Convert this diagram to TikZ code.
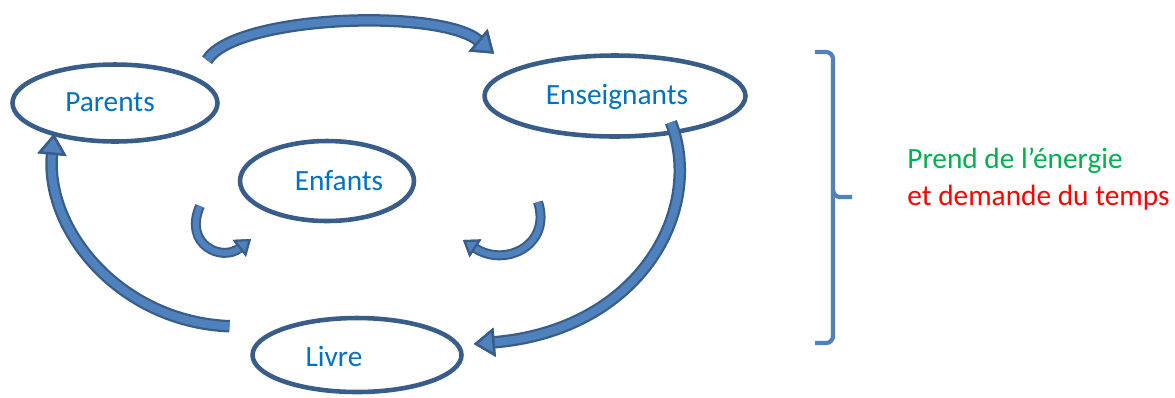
\documentclass[tikz,border=0pt]{standalone}
\usepackage{fontspec}
\setmainfont{Carlito}
\usepackage{xcolor}
\usepackage{tikz}
\usetikzlibrary{arrows.meta, positioning, shapes.geometric}
\definecolor{ring}{RGB}{56,93,138}
\definecolor{arrfill}{RGB}{79,129,189}
\definecolor{labelblue}{RGB}{0,112,192}
\definecolor{energy}{RGB}{0,176,80}
\definecolor{timered}{RGB}{255,0,0}

\begin{document}
\begin{tikzpicture}[x=0.02cm, y=-0.02cm, node distance=0.1cm,
    bubble/.style={ellipse, draw=ring, line width=2.6pt, inner sep=0pt},
    word/.style={font=\fontsize{16.7}{20}\selectfont, inner sep=0pt, anchor=base},
    bigarrow/.style={line width=0.16cm, draw=arrfill,
        -{Triangle[length=0.42cm, width=0.58cm, line width=1.4pt, color=ring, fill=arrfill]},
        preaction={draw=ring, line width=0.25cm}},
    smallarrow/.style={line width=0.12cm, draw=arrfill,
        -{Triangle[length=0.3cm, width=0.42cm, line width=1.2pt, color=ring, fill=arrfill]},
        preaction={draw=ring, line width=0.2cm}}]
    \useasboundingbox (0,0) rectangle (1175,397);

    \node (parents) [bubble, minimum width=4.1cm, minimum height=1.54cm] at (115,103) {};
    \node (enseig) [bubble, minimum width=5.22cm, minimum height=1.62cm] at (615,96) {};
    \node (enfants) [bubble, minimum width=3.48cm, minimum height=1.6cm] at (327,181) {};
    \node (livre) [bubble, minimum width=4.18cm, minimum height=1.48cm] at (357,355) {};

    \node (parents-t) [word, text=labelblue] at (110,111) {Parents};
    \node (enseig-t) [word, text=labelblue] at (617,104) {Enseignants};
    \node (enfants-t) [word, text=labelblue] at (339,190) {Enfants};
    \node (livre-t) [word, text=labelblue] at (334,366) {Livre};

    % big cycle
    \draw[bigarrow] ([shift={(18,-14)}]parents.north east) .. controls (235,15) and (440,8) .. ([shift={(-27,-12)}]enseig.north west);
    \draw[bigarrow] ([shift={(-38,-4)}]enseig.south east) .. controls (705,210) and (640,330) .. ([shift={(10,-11)}]livre.east);
    \draw[bigarrow] ([shift={(-52,-1)}]livre.north west) .. controls (120,322) and (45,230) .. ([shift={(13,2)}]parents.south west);

    % small curls under Enfants
    \coordinate (lcurl-a) at (200,206);
    \coordinate (lcurl-b) at (251,239);
    \coordinate (rcurl-a) at (538,202);
    \coordinate (rcurl-b) at (463,240);
    \draw[smallarrow] (lcurl-a) .. controls (183,245) and (222,262) .. (lcurl-b);
    \draw[smallarrow] (rcurl-a) .. controls (552,245) and (505,268) .. (rcurl-b);

    % bracket and remark
    \draw[arrfill, line width=2.4pt, rounded corners=4pt] (815,52) -| (833,197) -- (852,197);
    \draw[arrfill, line width=2.4pt, rounded corners=4pt] (833,190) |- (815,343);
    \node (energie) [word, anchor=base west, text=energy] at (907,168) {Prend de l’énergie};
    \node (temps) [word, anchor=base west, text=timered] at (907,205) {et demande du temps};
\end{tikzpicture}
\end{document}
